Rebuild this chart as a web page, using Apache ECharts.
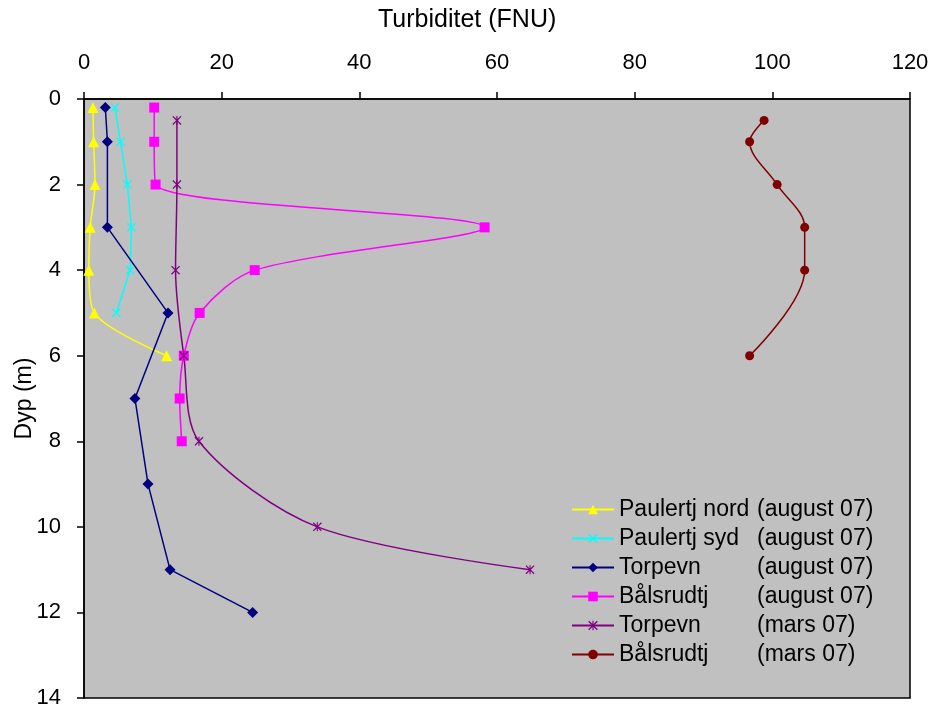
<!DOCTYPE html>
<html><head><meta charset="utf-8">
<script src="https://cdn.jsdelivr.net/npm/echarts@6/dist/echarts.min.js"></script>
<style>html,body{margin:0;padding:0;background:#fff}#c{width:935px;height:713px}</style>
</head><body><div id="c"></div>
<script>
// [turbidity FNU, depth m]
const paulertjNord = [[1.3,0.2],[1.4,1],[1.6,2],[0.9,3],[0.7,4],[1.5,5],[12.0,6]];
const paulertjSyd = [[4.5,0.2],[5.3,1],[6.3,2],[6.9,3],[6.7,4],[4.7,5]];
const torpevnAug = [[3.1,0.2],[3.4,1],[3.4,3],[12.2,5],[7.4,7],[9.3,9],[12.5,11],[24.5,12]];
const balsrudtjAug = [[10.2,0.2],[10.2,1],[10.4,2],[58.2,3],[24.8,4],[16.8,5],[14.5,6],[13.9,7],[14.2,8]];
const torpevnMars = [[13.5,0.5],[13.5,2],[13.3,4],[14.5,6],[16.7,8],[33.9,10],[64.8,11]];
const balsrudtjMars = [[98.8,0.5],[96.7,1],[100.7,2],[104.7,3],[104.7,4],[96.7,6]];
const seriesNames = ['Paulertj nord','Paulertj syd','Torpevn','Bålsrudtj','Torpevn ','Bålsrudtj '];
const periods = ['(august 07)','(august 07)','(august 07)','(august 07)','(mars 07)','(mars 07)'];
const xTicks = [0,20,40,60,80,100,120];
const yTicks = [0,2,4,6,8,10,12,14];

const X_PATH = 'path://M0,1L1,0L5,4L9,0L10,1L6,5L10,9L9,10L5,6L1,10L0,9L4,5Z';
const AST_PATH = 'path://M0,1L1,0L5,4L9,0L10,1L6,5L10,9L9,10L5,6L1,10L0,9L4,5Z M4.4,0L5.6,0L5.6,10L4.4,10Z';

const font = 'Liberation Sans, Arial, sans-serif';
function mk(name, data, color, symbol, size, smooth, constrain){
  return {name, type:'line', data, smooth: smooth || false, smoothConstraint: constrain !== false,
    symbol, symbolSize: size, showAllSymbol:true,
    lineStyle:{color, width:1.5}, itemStyle:{color}, animation:false};
}
const chart = echarts.init(document.getElementById('c'));
chart.setOption({
  backgroundColor:'#fff',
  animation:false,
  title:{text:'Turbiditet (FNU)', left:373, top:3,
    textStyle:{fontFamily:font, fontSize:25, fontWeight:'normal', color:'#000'}},
  grid:{left:84, right:25, top:99, bottom:15, containLabel:false, outerBoundsMode:'none',
    show:true, backgroundColor:'#C0C0C0', borderWidth:1.5, borderColor:'#000'},
  xAxis:{type:'value', position:'top', min:xTicks[0], max:xTicks[xTicks.length-1], interval:20,
    axisLine:{show:true, lineStyle:{color:'#000', width:1.5}},
    axisTick:{show:true, inside:false, length:7, lineStyle:{color:'#000', width:1.5}},
    axisLabel:{fontFamily:font, fontSize:22, color:'#000', margin:25},
    splitLine:{show:false}},
  yAxis:{type:'value', inverse:true, min:yTicks[0], max:yTicks[yTicks.length-1], interval:2,
    name:'Dyp (m)', nameLocation:'middle', nameGap:48, nameRotate:90, nameMoveOverlap:false,
    nameTextStyle:{fontFamily:font, fontSize:23, color:'#000'},
    axisLine:{show:true, lineStyle:{color:'#000', width:1.5}},
    axisTick:{show:true, inside:false, length:7, lineStyle:{color:'#000', width:1.5}},
    axisLabel:{fontFamily:font, fontSize:22, color:'#000', margin:23},
    splitLine:{show:false}},
  legend:{orient:'vertical', left:566, top:493, itemWidth:42, itemHeight:12, itemGap:6,
    data: seriesNames,
    formatter: function(n){ const i = seriesNames.indexOf(n); return '{a|'+n.trim()+'}{b|'+periods[i]+'}'; },
    textStyle:{fontFamily:font, fontSize:23, color:'#000',
      rich:{a:{width:138, fontFamily:font, fontSize:23, color:'#000', lineHeight:24},
            b:{fontFamily:font, fontSize:23, color:'#000', lineHeight:24}}}},
  series:[
    mk(seriesNames[0], paulertjNord, '#FFFF00', 'triangle', 11, 0.3),
    mk(seriesNames[1], paulertjSyd, '#00FFFF', X_PATH, 9, false),
    mk(seriesNames[2], torpevnAug, '#000080', 'diamond', 11, false),
    mk(seriesNames[3], balsrudtjAug, '#FF00FF', 'rect', 10, 0.3),
    mk(seriesNames[4], torpevnMars, '#800080', AST_PATH, 9, 0.3),
    mk(seriesNames[5], balsrudtjMars, '#800000', 'circle', 9, 0.35, false)
  ]
});
</script></body></html>
